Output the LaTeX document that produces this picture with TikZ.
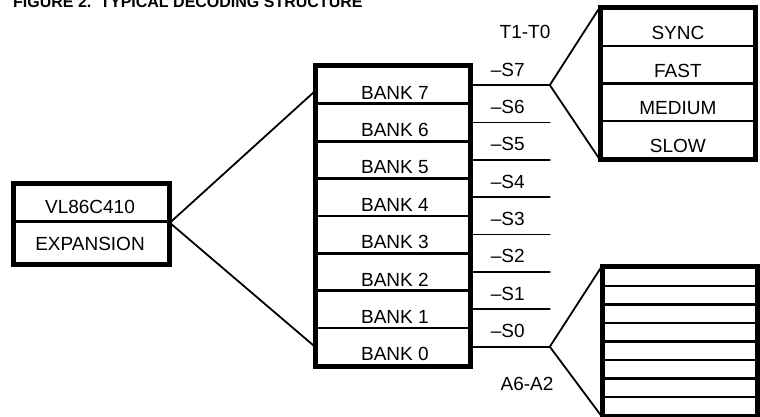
\documentclass[tikz,border=0pt]{standalone}
\usepackage{fontspec}
\setmainfont{Liberation Sans}
\usetikzlibrary{calc}
\begin{document}
\begin{tikzpicture}[x=1pt,y=-1pt,
  cell/.style={draw, line width=2.8pt, inner sep=0pt, minimum width=153pt, anchor=north west},
  frame/.style={line width=4pt},
  conn/.style={line width=1.8pt, line cap=round},
  lbl/.style={font=\fontsize{19}{19}\selectfont, anchor=base, inner sep=0pt},
  sig/.style={font=\fontsize{19}{19}\selectfont, anchor=base, inner sep=0pt},
  ttl/.style={font=\fontsize{16}{16}\selectfont\bfseries, anchor=base west, inner sep=0pt}]
\useasboundingbox (0,0) rectangle (760,416);
% title (cut at the top edge)
\node[ttl] (title) at (13,7) {FIGURE 2.\ \ TYPICAL DECODING STRUCTURE};
% left box
\node[cell, minimum width=154pt, minimum height=37pt] (vl) at (13,183) {};
\node[cell, minimum width=154pt, minimum height=42pt] (ex) at (13,220) {};
\draw[frame] (vl.north west) rectangle (ex.south east);
\node[lbl] (vlt) at (90,213) {VL86C410};
\node[lbl] (ext) at (90,250) {EXPANSION};
% bank column
\foreach \i in {7,...,0}{
  \pgfmathsetmacro{\yt}{65+(7-\i)*37.375}
  \node[cell, minimum height=37.375pt] (b\i) at (315,\yt) {};
  \node[lbl] (bt\i) at ($(b\i.south)+(2,-6)$) {BANK \i};
  \coordinate (s\i) at ($(b\i.east)+(79,0)$);
  \draw[conn] (b\i.east) -- (s\i);
  \node[sig] (sl\i) at ($(b\i.east)+(37,-9)$) {--S\i};
}
\draw[frame] (b7.north west) rectangle (b0.south east);
% fan from expansion box to banks
\draw[conn] (vl.south east) -- ($(b7.west)+(0,6)$);
\draw[conn] (vl.south east) -- (b0.west);
% top right box
\foreach \n/\t [count=\k from 0] in {t1/SYNC,t2/FAST,t3/MEDIUM,t4/SLOW}{
  \pgfmathsetmacro{\yt}{7+\k*37.5}
  \node[cell, minimum height=37.5pt] (\n) at (600,\yt) {};
  \node[lbl] (\n txt) at ($(\n.south)+(0,-7.5)$) {\t};
}
\draw[frame] (t1.north west) rectangle (t4.south east);
\draw[conn] (s7) -- (t1.north west);
\draw[conn] (s7) -- (t4.south west);
\node[sig] (tlab) at (525,38) {T1-T0};
% bottom right box
\foreach \k in {1,...,8}{
  \pgfmathsetmacro{\yt}{266+(\k-1)*18.5}
  \node[cell, minimum height=18.5pt] (a\k) at (602,\yt) {};
}
\draw[frame] (a1.north west) rectangle (a8.south east);
\draw[conn] (s0) -- (a1.north west);
\draw[conn] (s0) -- (a8.south west);
\node[sig] (alab) at (527,390) {A6-A2};
\end{tikzpicture}
\end{document}
